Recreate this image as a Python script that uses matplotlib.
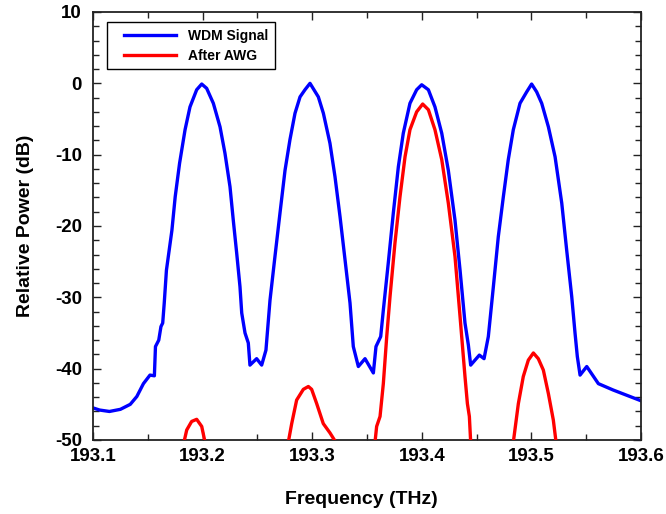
import numpy as np
import matplotlib
matplotlib.use("Agg")
import matplotlib.pyplot as plt
from matplotlib.ticker import MultipleLocator
from matplotlib.legend_handler import HandlerLine2D

plt.rcParams["font.family"] = ["Liberation Sans", "DejaVu Sans"]
plt.rcParams["font.weight"] = "bold"

# WDM signal (blue)
wdm_freq = [
    193.100, 193.106, 193.115, 193.125, 193.134, 193.140, 193.146, 193.152,
    193.156, 193.157, 193.160, 193.162, 193.1636, 193.165, 193.167, 193.172,
    193.175, 193.179, 193.184, 193.1885, 193.1946, 193.1992, 193.2037, 193.2098,
    193.2159, 193.2204, 193.225, 193.228, 193.2311, 193.2341, 193.2357, 193.2387,
    193.2417, 193.2432, 193.2493, 193.2539, 193.2578, 193.2615, 193.266, 193.2706,
    193.2752, 193.2797, 193.2843, 193.2889, 193.2934, 193.298, 193.3056, 193.3102,
    193.3162, 193.3208, 193.3254, 193.330, 193.3345, 193.3375, 193.3421, 193.3482,
    193.3558, 193.3582, 193.3625, 193.3649, 193.3694, 193.374, 193.3786, 193.3831,
    193.3892, 193.3953, 193.3999, 193.406, 193.412, 193.4182, 193.4242, 193.4303,
    193.4349, 193.4394, 193.4425, 193.4446, 193.4525, 193.4568, 193.4607, 193.4653,
    193.4698, 193.4744, 193.4789, 193.4835, 193.4896, 193.4957, 193.5002, 193.5048,
    193.5094, 193.5155, 193.5216, 193.5277, 193.5322, 193.5368, 193.5398, 193.5419,
    193.5444, 193.5505, 193.5611, 193.5747, 193.600,
]
wdm_power = [
    -45.5, -45.8, -46.0, -45.7, -45.0, -43.9, -42.1, -40.9,
    -41.0, -36.9, -36.0, -34.1, -33.6, -30.8, -26.2, -20.6,
    -15.9, -11.2, -6.5, -3.3, -0.9, -0.1, -0.7, -2.8,
    -6.1, -9.8, -14.5, -19.2, -23.8, -28.5, -32.2, -35.0,
    -36.4, -39.5, -38.6, -39.5, -37.4, -30.4, -24.3, -18.2,
    -12.2, -7.9, -4.2, -1.9, -0.9, 0.0, -1.9, -4.2,
    -8.4, -13.1, -18.7, -24.8, -30.8, -36.9, -39.7, -38.6,
    -40.6, -36.9, -35.5, -31.8, -25.2, -18.2, -11.7, -7.0,
    -2.8, -0.9, -0.2, -0.9, -3.3, -7.0, -12.2, -19.2,
    -26.2, -33.6, -36.7, -39.5, -38.1, -38.6, -35.5, -28.5,
    -21.5, -15.9, -10.7, -6.5, -2.8, -1.2, -0.1, -1.2,
    -2.8, -6.1, -10.3, -16.8, -23.4, -29.9, -35.0, -38.3,
    -40.9, -39.7, -42.1, -43.0, -44.5,
]

# After AWG (red), one lobe per channel
awg_freq_1 = [193.183, 193.1855, 193.190, 193.1946, 193.1992, 193.2022]
awg_power_1 = [-50.3, -48.6, -47.4, -47.1, -48.1, -50.3]

awg_freq_2 = [193.2782, 193.2813, 193.2858, 193.2919, 193.2965, 193.2995,
              193.3041, 193.3101, 193.3162, 193.3215]
awg_power_2 = [-50.3, -47.7, -44.4, -42.9, -42.5, -42.9, -44.9, -47.7, -49.0, -50.3]

awg_freq_3 = [193.3573, 193.3588, 193.3619, 193.3649, 193.368, 193.371, 193.3755,
              193.3801, 193.3847, 193.3892, 193.3953, 193.4008, 193.406, 193.412,
              193.4182, 193.4242, 193.4303, 193.4349, 193.4394, 193.4416, 193.4434,
              193.4446]
awg_power_3 = [-50.3, -48.1, -46.7, -42.1, -35.5, -29.9, -22.4, -15.9, -10.3, -6.5,
               -4.0, -2.9, -3.7, -6.5, -10.7, -16.8, -24.3, -32.7, -41.1, -44.9,
               -46.7, -50.3]

awg_freq_4 = [193.4835, 193.4881, 193.4926, 193.4972, 193.5018, 193.5063, 193.5109,
              193.5155, 193.520, 193.5225]
awg_power_4 = [-50.3, -44.9, -41.1, -38.8, -37.8, -38.6, -40.2, -43.5, -47.2, -50.3]

awg_lobes = [(awg_freq_1, awg_power_1), (awg_freq_2, awg_power_2),
             (awg_freq_3, awg_power_3), (awg_freq_4, awg_power_4)]

fig = plt.figure(figsize=(6.66, 5.14), dpi=100)
ax = fig.add_axes([93 / 666, 1 - 440 / 514, 548 / 666, 428 / 514])

lw = 2.4
ax.plot(wdm_freq, wdm_power, color="#0000ff", lw=lw, label="WDM Signal",
        solid_joinstyle="round", zorder=2)
for i, (f, p) in enumerate(awg_lobes):
    ax.plot(f, p, color="#ff0000", lw=lw, solid_joinstyle="round",
            label="After AWG" if i == 0 else None, zorder=3)

ax.set_xlim(193.1, 193.6)
ax.set_ylim(-50, 10)
ax.xaxis.set_major_locator(MultipleLocator(0.1))
ax.xaxis.set_minor_locator(MultipleLocator(0.05))
ax.yaxis.set_major_locator(MultipleLocator(10))
ax.yaxis.set_minor_locator(MultipleLocator(2))
ax.xaxis.set_major_formatter(plt.FuncFormatter(lambda v, _: f"{v:.1f}"))
ax.yaxis.set_major_formatter(plt.FuncFormatter(lambda v, _: f"{v:.0f}"))

ax.tick_params(which="both", direction="in", top=True, right=True, width=1,
               labelsize=13.5, color="#222222")
ax.tick_params(which="major", length=6)
ax.tick_params(which="minor", length=4)
ax.tick_params(axis="x", pad=6)
ax.tick_params(axis="y", pad=8)
for s in ax.spines.values():
    s.set_linewidth(1.3)
    s.set_color("#222222")

ax.set_xlabel("Frequency (THz)", fontsize=14, fontweight="bold")
ax.set_ylabel("Relative Power (dB)", fontsize=14, fontweight="bold")
ax.xaxis.set_label_coords(0.49, -0.12)
ax.yaxis.set_label_coords(-0.108, 0.5)

# shift legend lines right inside the frame
handler = HandlerLine2D(xpad=0.75)
leg = ax.legend(loc="upper left", bbox_to_anchor=(107 / 666, 1 - 22 / 514),
                bbox_transform=fig.transFigure, borderaxespad=0, fancybox=False,
                framealpha=1, edgecolor="black", fontsize=10, handlelength=4.5,
                handletextpad=0.84, labelspacing=0.4, borderpad=0.5,
                handler_map={plt.Line2D: handler})
leg.get_frame().set_linewidth(1.0)

fig.savefig("out.png", dpi=100)
